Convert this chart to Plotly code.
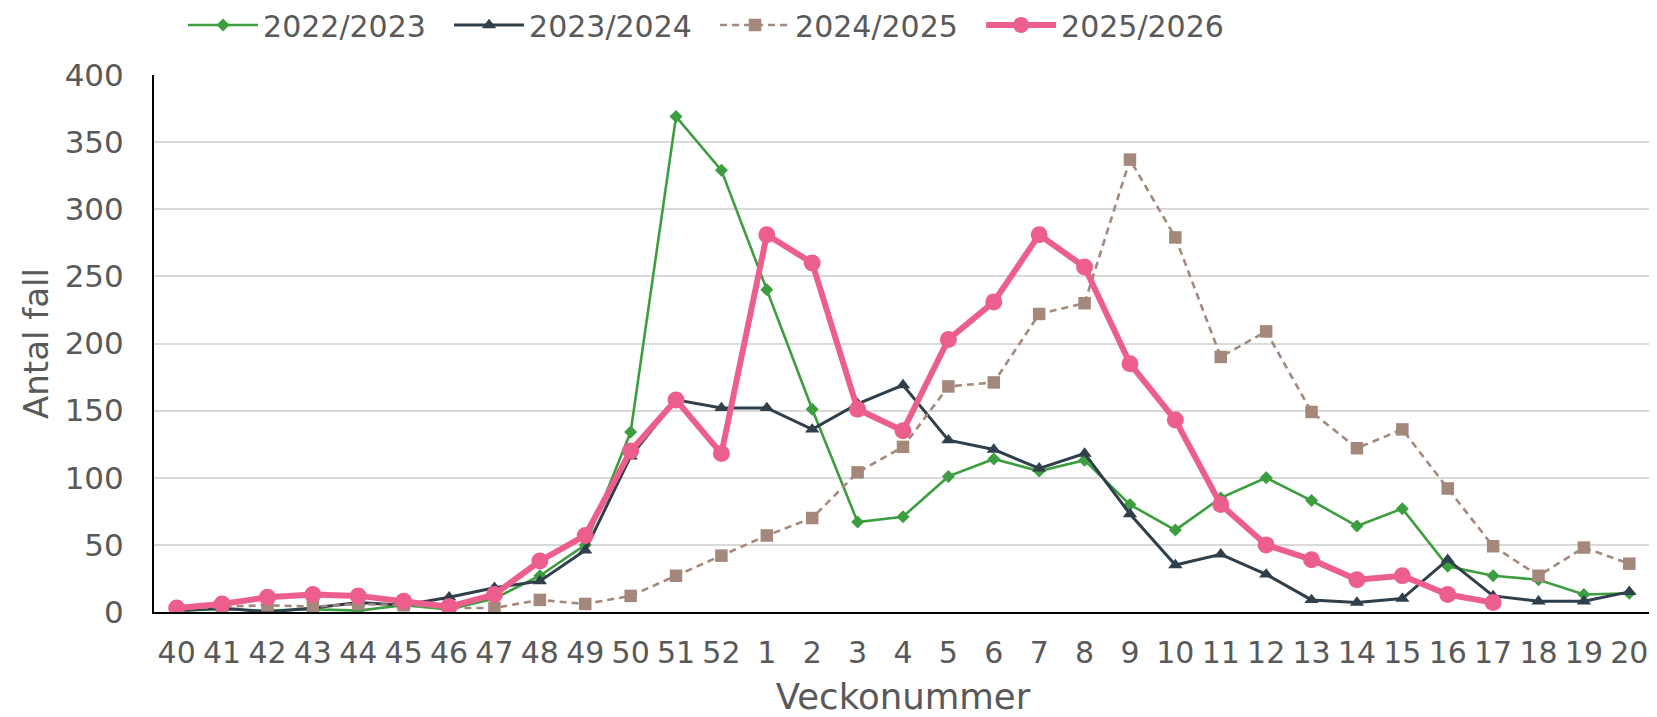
import plotly.graph_objects as go

weeks = ["40","41","42","43","44","45","46","47","48","49","50","51","52",
         "1","2","3","4","5","6","7","8","9","10","11","12","13","14","15","16","17","18","19","20"]

s2022 = [1,2,1,2,1,5,2,10,27,50,134,369,329,240,151,67,71,101,114,105,113,80,61,85,100,83,64,77,34,27,24,13,14]
s2023 = [1,3,0,3,7,5,11,18,23,46,116,158,152,152,136,155,169,128,121,107,118,73,35,43,28,9,7,10,39,12,8,8,15]
s2024 = [2,4,5,4,6,5,3,3,9,6,12,27,42,57,70,104,123,168,171,222,230,337,279,190,209,149,122,136,92,49,27,48,36]
s2025 = [3,6,11,13,12,8,4,13,38,57,120,158,118,281,260,151,135,203,231,281,257,185,143,80,50,39,24,27,13,7]

yticks = [0,50,100,150,200,250,300,350,400]

font = "DejaVu Sans"
grey = "#595959"
W, H = 1649, 709

fig = go.Figure()
fig.add_trace(go.Scatter(x=weeks, y=s2022, name="2022/2023", mode="lines+markers",
                         line=dict(color="#3d9e40", width=2.6),
                         marker=dict(symbol="diamond", size=10, color="#3d9e40")))
fig.add_trace(go.Scatter(x=weeks, y=s2023, name="2023/2024", mode="lines+markers",
                         line=dict(color="#2f3f4b", width=3),
                         marker=dict(symbol="triangle-up", size=12.5, color="#2f3f4b")))
fig.add_trace(go.Scatter(x=weeks, y=s2024, name="2024/2025", mode="lines+markers",
                         line=dict(color="#a5887c", width=2.6, dash="7px,5px"),
                         marker=dict(symbol="square", size=12.5, color="#a5887c")))
fig.add_trace(go.Scatter(x=weeks[:len(s2025)], y=s2025, name="2025/2026", mode="lines+markers",
                         line=dict(color="#ec5f8d", width=6),
                         marker=dict(symbol="circle", size=17, color="#ec5f8d")))

fig.update_layout(
    width=W, height=H,
    paper_bgcolor="white", plot_bgcolor="white",
    margin=dict(l=146, r=5, t=67, b=105),
    font=dict(family=font, color=grey, size=28),
    legend=dict(orientation="h", x=0.0194, xanchor="left",
                yref="container", y=1 - 17 / H, yanchor="middle",
                font=dict(size=30, color=grey), entrywidth=181, entrywidthmode="pixels",
                itemwidth=70),
    xaxis=dict(type="category", categoryorder="array", categoryarray=weeks,
               range=[-0.5, len(weeks) - 0.5], automargin=False,
               showline=True, linecolor="black", linewidth=2, showgrid=False,
               ticks="outside", ticklen=13, tickcolor="rgba(0,0,0,0)",
               tickfont=dict(size=30, color=grey),
               title=dict(text="Veckonummer", font=dict(size=35.5, color=grey), standoff=22)),
    yaxis=dict(range=[0, 400], tickvals=yticks, automargin=False,
               showline=True, linecolor="black", linewidth=2,
               showgrid=True, gridcolor="#d9d9d9", gridwidth=2,
               zeroline=False, ticks="outside", ticklen=22, tickcolor="rgba(0,0,0,0)",
               tickfont=dict(size=31, color=grey),
               title=dict(text="Antal fall", font=dict(size=34, color=grey), standoff=6)),
)

fig.write_html("out.html")
